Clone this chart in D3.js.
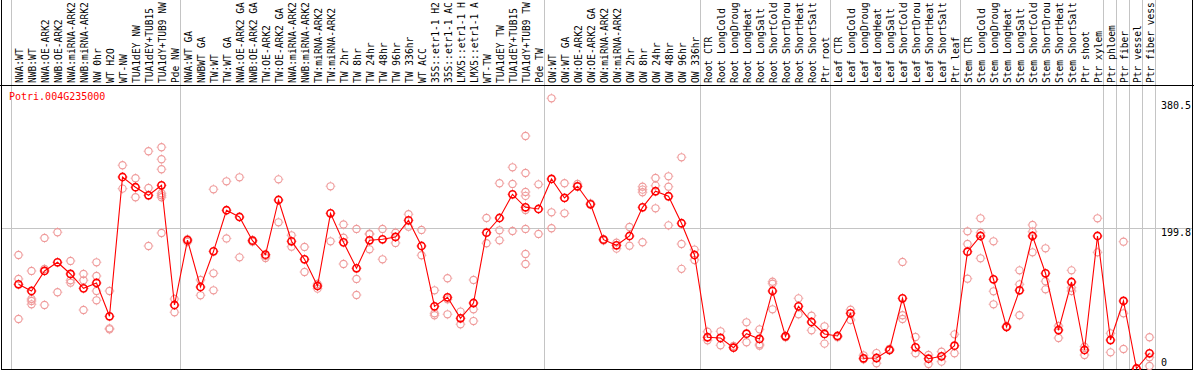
<!DOCTYPE html>
<html>
<head>
<meta charset="utf-8">
<script src="https://cdn.jsdelivr.net/npm/d3@7"></script>
<style>
  body { margin: 0; background: #fff; }
  svg { display: block; }
  text { font-family: "DejaVu Sans Mono", "Liberation Mono", monospace; font-size: 10px; }
  .hdr { font-size: 9.6px; }
</style>
</head>
<body>
<svg id="chart" width="1194" height="370"></svg>
<script>
const title = "Potri.004G235000";

const labels = [
  "NWA:WT","NWB:WT","NWA:OE-ARK2","NWB:OE-ARK2","NWA:miRNA-ARK2","NWB:miRNA-ARK2","NW 0hr","WT H2O","WT-NW","TUA1dEY NW","TUA1dEY+TUB15","TUA1dY+TUB9 NW","Pde NW",
  "NWA:WT GA","NWBWT GA","TW:WT","TW:WT GA","NWA:OE-ARK2 GA","NWB:OE-ARK2 GA","TW:OE-ARK2","TW:OE-ARK2 GA","NWA:miRNA-ARK2","NWB:miRNA-ARK2","TW:miRNA-ARK2","TW:miRNA-ARK2","TW 2hr","TW 8hr","TW 24hr","TW 48hr","TW 96hr","TW 336hr","WT ACC","35S::etr1-1 H2","35S::etr1-1 AC","LMX5::etr1-1 H","LMX5::etr1-1 A","WT-TW","TUA1dEY TW","TUA1dEY+TUB15","TUA1dY+TUB9 TW","Pde TW",
  "OW:WT","OW:WT GA","OW:OE-ARK2","OW:OE-ARK2 GA","OW:miRNA-ARK2","OW:miRNA-ARK2","OW 2hr","OW 8hr","OW 24hr","OW 48hr","OW 96hr","OW 336hr",
  "Root CTR","Root LongCold","Root LongDroug","Root LongHeat","Root LongSalt","Root ShortCold","Root ShortDrou","Root ShortHeat","Root ShortSalt","Ptr root",
  "Leaf CTR","Leaf LongCold","Leaf LongDroug","Leaf LongHeat","Leaf LongSalt","Leaf ShortCold","Leaf ShortDrou","Leaf ShortHeat","Leaf ShortSalt","Ptr leaf",
  "Stem CTR","Stem LongCold","Stem LongDroug","Stem LongHeat","Stem LongSalt","Stem ShortCold","Stem ShortDrou","Stem ShortHeat","Stem ShortSalt","Ptr shoot","Ptr xylem",
  "Ptr phloem","Ptr fiber","Ptr vessel","Ptr fiber vess"
];

const groupStarts = [0, 13, 41, 53, 63, 73, 84, 85, 86, 87, 88];

const means = [
  119.7,110.2,138.7,151,134.4,114,121.6,74.2,272.3,257.7,246.3,260.5,90.3,
  182.5,115.9,166.6,225,215.4,181.8,161.9,239.6,180.9,155.3,117.3,220.7,179.4,142.5,182.3,183.7,187,210.7,174.2,88.4,101.2,71.4,93.1,193.1,214,247.7,229.2,226.8,
  269.5,242.5,259.1,233.5,183.2,175.2,188.4,229.2,252,244.9,206.5,161.4,
  44.4,43.4,29.6,49.5,42,110.2,45.8,88.4,66.1,49.1,
  46.2,78.5,14.5,14.9,26.3,99.8,30.1,13.9,17.3,32.4,
  166.1,188.4,126.8,59,111.2,188.4,135.4,54.7,123,26.3,188.4,
  40.5,96,0,21.6
];

const replicates = [
  [161.4,127.3,70.4],[138.7,98.8,96,91.3],[185.6,141.5,90.3],[193.7,108.4],[152.9,125.4,122],[134.4,125.4,83.2],[151,131.5,110.2,97],[110.2,57.1,55.7],[289,255.7],[270.5,243.5],[308.9,256.7,174.2],[314.6,297.5,283.3,249.2,246.3,243.5,192.7],[98.8,80],
  [184,180],[125.9,104.1],[254.8,135.4,111.2],[266.2,184.9],[271.9,158.1],[182.7,180.3],[160,157.1],[269,207.9],[189.4,173.2],[172.8,137.2],[120.2,113.5],[259.1,180.9],[204.8,186,148.6],[198.4,127.3,104.5],[191.7,190.8,169.5],[198.4,155.3],[193.1,178.5],[219.3,201.6],[197,161],[111.2,78.5,75.7],[128.3,98.4,77.1],[80.8,62.9],[125.9,84.2,67.5],[214,178.1],[263.4,196.5,182.3],[286.1,262.4,195.5],[330.6,278,251,245.4,225.4,198.4,162.8,148.6],[261.9,191.3],
  [384.2,222.1,199.4],[263.4,220.7],[262.4,258.5],[234.9],[184,182],[178.9,170.4],[201.2,174.6],[258.5,254.3,250.6,179.5],[270.9,260,227.8],[273.3,258.5,203.6],[300.3,177,141.7],[169,154.3],
  [52.3,40.1],[52.9,33],[32,30],[65.7,37.3],[55.7,34.4,32.4],[123.4,120.6,84.2],[46.5,44.5],[99.8,77.1],[75.1,54.3],[60,35.3],
  [45.5,44.5],[83.6,69],[18.8,13.1],[22,7.4],[28,26],[151.5,75.7,70.4],[44.8,21.6],[19.2,6.4],[23.9,9.7],[48.6,21.6],
  [195.1,177,127.7],[213.6,193.1,156.7],[180.9,109.8,91.3],[60.5,59],[139.6,119.7,75.7],[204.1,194.5,165.2],[170.9,124,112.6],[60.4,43.4],[139.6,114.9,110.2],[31,19.2],[213.6,165.2],
  [50,23],[180.3,78.5,27.7],[0],[44.4,15.9,3.6]
];

const yTicks = [380.5, 199.8, 0];
const gridValues = [199.8];

const W = 1194, H = 370;
const headerBottom = 85.5;
const plotBottom = 369;

const svg = d3.select("#chart");
svg.append("rect").attr("width", W).attr("height", H).attr("fill", "#fff");

const x = d3.scaleBand().domain(d3.range(labels.length)).range([12, 1156]).paddingInner(0).paddingOuter(0);
const cx = i => x(i) + x.bandwidth() / 2;
const y = d3.scaleLinear().domain([0, 380.5]).range([368.5, 100.9]);

// group separator lines
svg.append("g").selectAll("line").data(groupStarts).join("line")
  .attr("x1", d => (d < labels.length ? x(d) : x(labels.length - 1) + x.bandwidth()) - 0.5)
  .attr("x2", d => (d < labels.length ? x(d) : x(labels.length - 1) + x.bandwidth()) - 0.5)
  .attr("y1", 0).attr("y2", plotBottom)
  .attr("stroke", "#c4c4c4").attr("stroke-width", 1);

// horizontal grid
svg.append("g").selectAll("line").data(gridValues).join("line")
  .attr("x1", 1).attr("x2", 1192)
  .attr("y1", d => Math.round(y(d)) + 0.5).attr("y2", d => Math.round(y(d)) + 0.5)
  .attr("stroke", "#c4c4c4").attr("stroke-width", 1);

// header labels
svg.append("g").selectAll("text").data(labels).join("text")
  .attr("class", "hdr")
  .attr("transform", (d, i) => `translate(${cx(i) + 4},83) rotate(-90)`)
  .attr("text-anchor", "start")
  .attr("fill", "#000")
  .text(d => d);

// frame
svg.append("line").attr("x1", 0).attr("x2", W).attr("y1", headerBottom).attr("y2", headerBottom).attr("stroke", "#000").attr("stroke-width", 1);
svg.append("line").attr("x1", 1.5).attr("x2", 1.5).attr("y1", 0).attr("y2", plotBottom).attr("stroke", "#000");
svg.append("line").attr("x1", 1192.5).attr("x2", 1192.5).attr("y1", 0).attr("y2", plotBottom).attr("stroke", "#000");
svg.append("line").attr("x1", 1).attr("x2", 1193).attr("y1", plotBottom + 0.5).attr("y2", plotBottom + 0.5).attr("stroke", "#000");

// y labels
svg.append("g").selectAll("text").data(yTicks).join("text")
  .attr("x", 1161)
  .attr("y", d => d === 0 ? 366 : y(d) + 8)
  .attr("fill", "#000")
  .text(d => d === 0 ? "0" : d3.format(".1f")(d));

// title
svg.append("text").attr("x", 9).attr("y", 100).attr("fill", "#ff0000").text(title);

function marker(g, px, py, color, sw) {
  g.append("circle").attr("cx", px).attr("cy", py).attr("r", 3.6)
    .attr("fill", "none").attr("stroke", color).attr("stroke-width", sw);
  const t = [[0,-1],[0,1],[-1,0],[1,0]];
  t.forEach(([dx, dy]) => {
    g.append("line")
      .attr("x1", px + dx * 3.6).attr("y1", py + dy * 3.6)
      .attr("x2", px + dx * 5).attr("y2", py + dy * 5)
      .attr("stroke", color).attr("stroke-width", 1).attr("opacity", 0.6);
  });
}

// replicate points
const repG = svg.append("g");
replicates.forEach((arr, i) => {
  arr.forEach(v => marker(repG, cx(i), y(v), "#ef9a9a", 1.1));
});

// mean line
svg.append("path")
  .datum(means)
  .attr("fill", "none")
  .attr("stroke", "#ff0000")
  .attr("stroke-width", 1.1)
  .attr("d", d3.line().x((d, i) => cx(i)).y(d => y(d)));

// mean points
const meanG = svg.append("g");
means.forEach((v, i) => marker(meanG, cx(i), y(v), "#ff0000", 1.6));
</script>
</body>
</html>
